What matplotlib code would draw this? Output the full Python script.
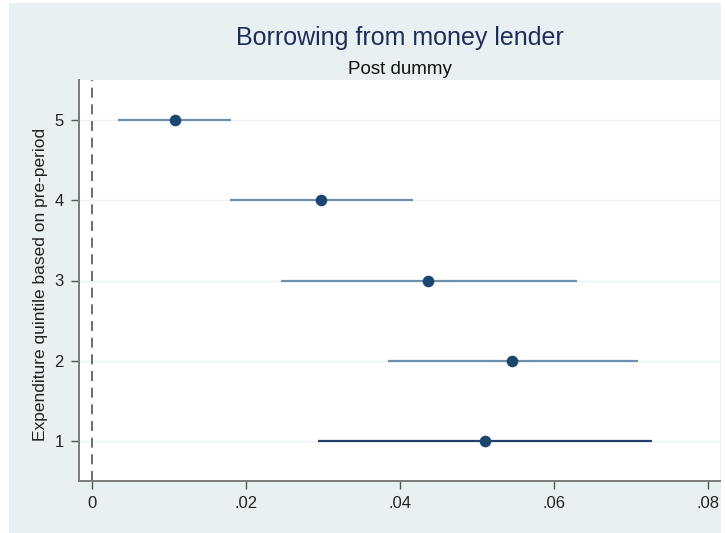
"""Coefficient plot: borrowing from money lender by expenditure quintile."""

import matplotlib.pyplot as plt
from matplotlib.patches import Rectangle

# Estimates by pre-period expenditure quintile (post dummy)
quintiles = [1, 2, 3, 4, 5]
coef = [0.0511, 0.0546, 0.0437, 0.0298, 0.0108]
ci_low = [0.0294, 0.0385, 0.0246, 0.0180, 0.0034]
ci_high = [0.0728, 0.0709, 0.0630, 0.0417, 0.0181]
xticks = [0, 0.02, 0.04, 0.06, 0.08]
xtick_labels = ["0", ".02", ".04", ".06", ".08"]

BG = "#E8F0F2"
NAVY = "#1A4670"
CI_LIGHT = "#6F8FAE"
CI_DARK = "#22406A"
AXIS = "#7A7A7A"

plt.rcParams["font.family"] = ["Liberation Sans", "DejaVu Sans"]

W, H = 725, 533
fig = plt.figure(figsize=(W / 100, H / 100), dpi=100, facecolor="white")
fig.patches.append(Rectangle((9 / W, 0), 712 / W, 530 / H,
                             transform=fig.transFigure, facecolor=BG,
                             edgecolor="none", zorder=-10))

ax = fig.add_axes([79 / W, (H - 481) / H, 641 / W, 401 / H])
ax.set_facecolor("white")

for q in quintiles:
    ax.axhline(q, color="#EDF2F4", linewidth=1, zorder=1)

ax.axvline(0, color="#555555", linewidth=1.2, linestyle=(0, (6, 4)), zorder=2)

for i, q in enumerate(quintiles):
    color = CI_DARK if q == 1 else CI_LIGHT
    ax.plot([ci_low[i], ci_high[i]], [q, q], color=color, linewidth=1.6,
            solid_capstyle="butt", zorder=3)
ax.scatter(coef, quintiles, s=70, color=NAVY, zorder=4, linewidths=0)

ax.set_xlim(-0.00166, 0.0816)
ax.set_ylim(0.5, 5.5)
ax.set_xticks(xticks)
ax.set_xticklabels(xtick_labels)
ax.set_yticks(quintiles)

for side in ["top", "right"]:
    ax.spines[side].set_visible(False)
for side in ["left", "bottom"]:
    ax.spines[side].set_color(AXIS)
    ax.spines[side].set_linewidth(1.4)
ax.tick_params(axis="both", direction="out", length=6, width=1,
               color="#555555", labelsize=12, labelcolor="#222222", pad=5)

fig.text(41 / W, 1 - 284 / H, "Expenditure quintile based on pre-period",
         rotation=90, ha="center", va="center", fontsize=12.5,
         color="#222222")

fig.text(400 / W, 1 - 45 / H, "Borrowing from money lender",
         ha="center", va="baseline", fontsize=18, color="#1E2D5A")
fig.text(400 / W, 1 - 74 / H, "Post dummy",
         ha="center", va="baseline", fontsize=13.5, color="#111111")

fig.savefig("out.png", dpi=100, facecolor="white")
